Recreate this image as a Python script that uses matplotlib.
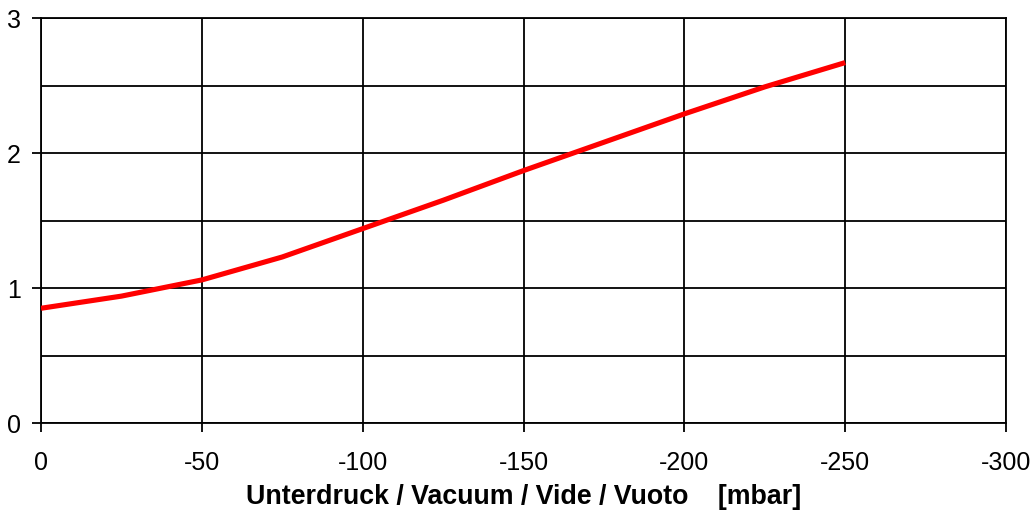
import matplotlib
matplotlib.use('Agg')
import matplotlib.pyplot as plt
import numpy as np

plt.rcParams['font.family'] = ['Liberation Sans', 'DejaVu Sans']

# vacuum [mbar] and curve values
vacuum = [0, -25, -50, -75, -100, -125, -150, -175, -200, -225, -250]
values = [0.85, 0.94, 1.06, 1.23, 1.44, 1.65, 1.87, 2.08, 2.29, 2.49, 2.67]

x_ticks = [0, -50, -100, -150, -200, -250, -300]
y_ticks = [0, 1, 2, 3]
y_grid = [0.5, 1.5, 2.5]
xlabel = 'Unterdruck / Vacuum / Vide / Vuoto    [mbar]'

fig = plt.figure(figsize=(10.36, 5.15), dpi=100)
ax = fig.add_axes([0.0396, 0.1786, 0.9315, 0.7864])

ax.plot(vacuum, values, color='#ff0000', lw=3.7, solid_capstyle='butt', zorder=3)

ax.set_xlim(0, -300)
ax.set_ylim(0, 3)
ax.set_xticks(x_ticks)
ax.set_yticks(y_ticks)
ax.set_xticklabels([str(v) for v in x_ticks])
ax.set_yticklabels([str(v) for v in y_ticks])

for v in x_ticks:
    ax.axvline(v, color='black', lw=1.3, zorder=1)
for v in y_ticks + y_grid:
    ax.axhline(v, color='black', lw=1.3, zorder=1)

for s in ax.spines.values():
    s.set_linewidth(1.3)
    s.set_color('black')

ax.tick_params(axis='y', direction='out', length=6.5, width=1.3, labelsize=18, pad=8)
ax.tick_params(axis='x', direction='out', length=6.5, width=1.3, labelsize=18, pad=14)

ax.set_xlabel(xlabel, fontsize=19.3, fontweight='bold', labelpad=6)

fig.savefig('out.png', dpi=100)
